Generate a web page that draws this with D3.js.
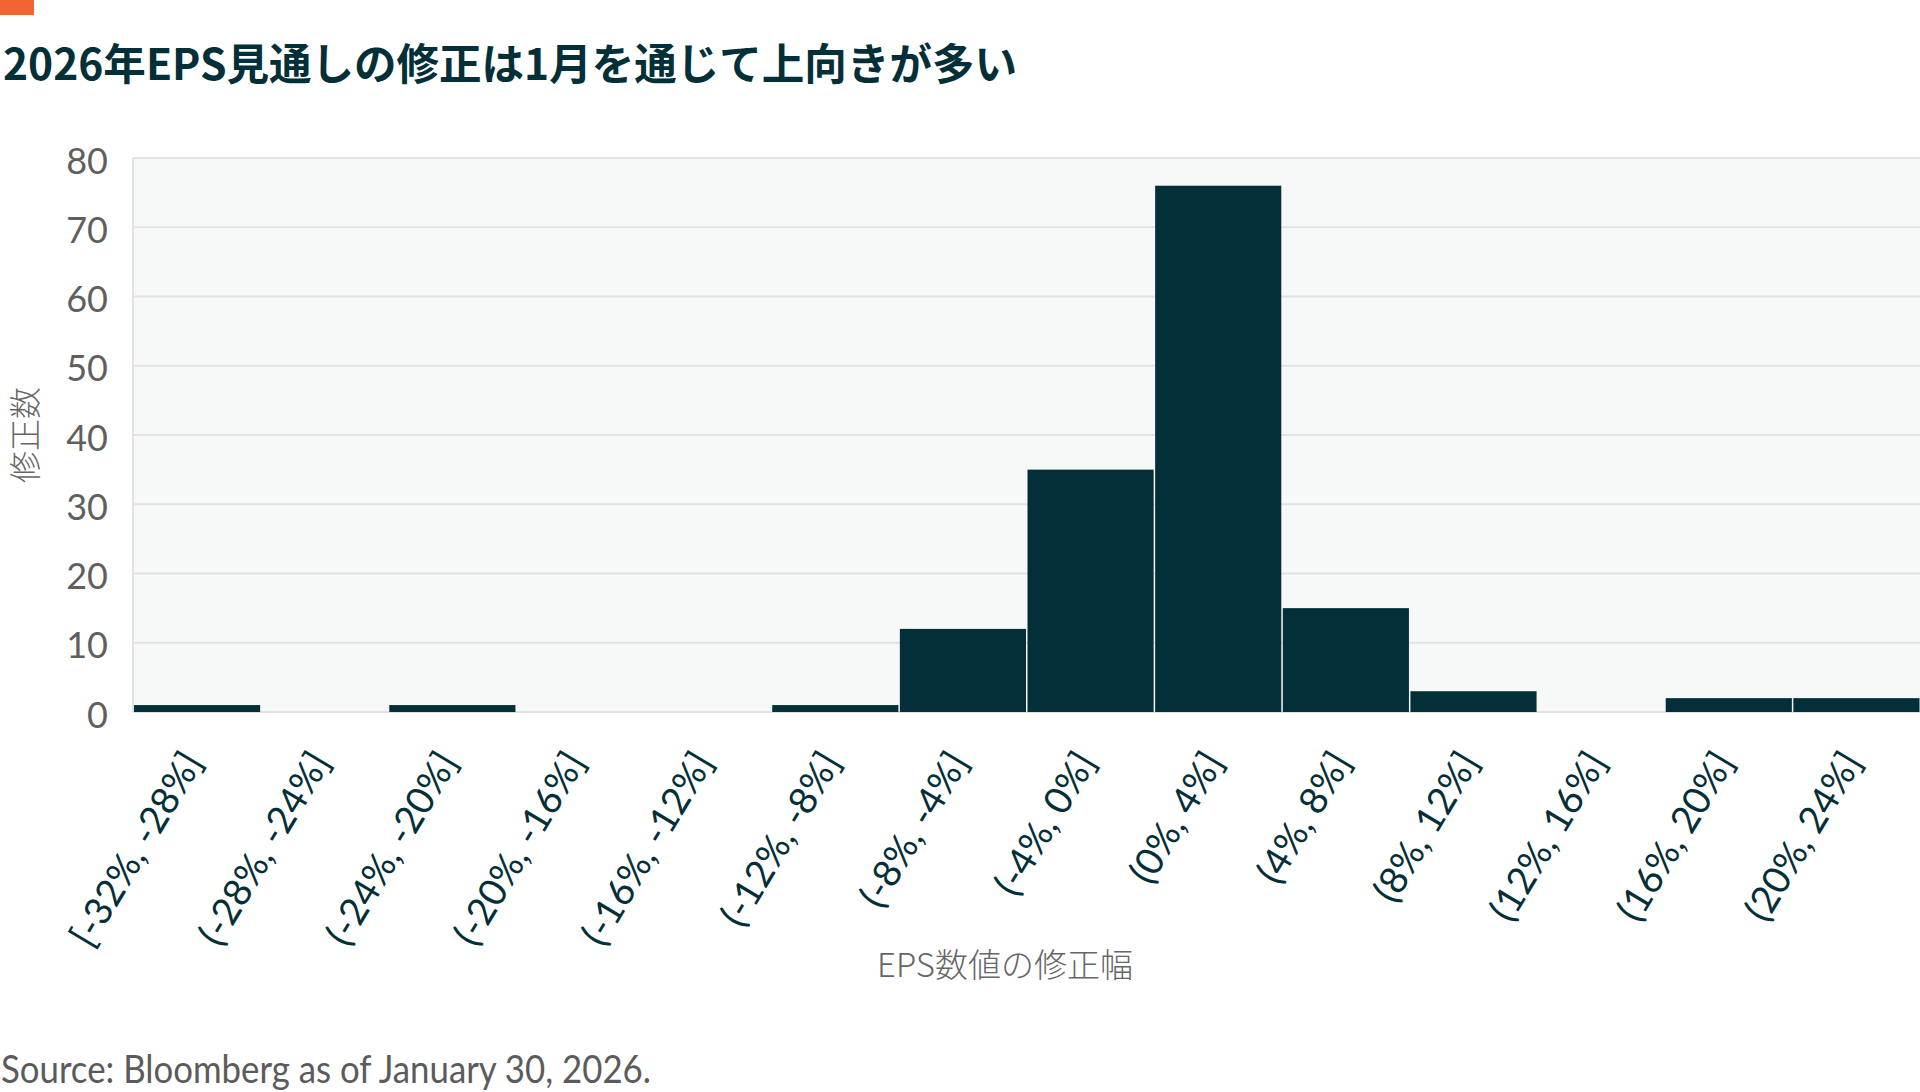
<!DOCTYPE html>
<html><head><meta charset="utf-8">
<script src="https://cdn.jsdelivr.net/npm/d3@7"></script>
<style>
html,body{margin:0;padding:0;background:#fff;}
svg{display:block;}
</style></head>
<body>
<svg id="chart" width="1920" height="1092"></svg>
<script>
const categories = ["[-32%, -28%]","(-28%, -24%]","(-24%, -20%]","(-20%, -16%]","(-16%, -12%]","(-12%, -8%]","(-8%, -4%]","(-4%, 0%]","(0%, 4%]","(4%, 8%]","(8%, 12%]","(12%, 16%]","(16%, 20%]","(20%, 24%]"];
const counts = [1,0,1,0,0,1,12,35,76,15,3,0,2,2];
const yTicks = [0,10,20,30,40,50,60,70,80];
const titleText = "2026年EPS見通しの修正は1月を通じて上向きが多い";
const yTitle = "修正数";
const xTitle = "EPS数値の修正幅";
const sourceText = "Source: Bloomberg as of January 30, 2026.";

const svg = d3.select("#chart");
const pLeft = 133, pRight = 1920, pTop = 158, pBottom = 712;
const dark = "#022f38";

const x = d3.scaleBand().domain(categories).range([pLeft, pRight]).padding(0);
const y = d3.scaleLinear().domain([0, 80]).range([pBottom, pTop]);

// accent
svg.append("rect").attr("x",0).attr("y",0).attr("width",34).attr("height",15).attr("fill","#f26430");

// title
svg.append("text").attr("x",3).attr("y",80)
  .attr("font-family","'Noto Sans CJK JP', sans-serif").attr("font-weight",700)
  .attr("font-size",43).attr("fill",dark)
  .attr("textLength",1014).attr("lengthAdjust","spacingAndGlyphs")
  .text(titleText);

// plot background
svg.append("rect").attr("x",pLeft).attr("y",pTop).attr("width",pRight-pLeft).attr("height",pBottom-pTop).attr("fill","#f7f9f9");

// gridlines
svg.append("g").selectAll("line").data(yTicks).join("line")
  .attr("x1",pLeft).attr("x2",pRight)
  .attr("y1",d=>y(d)).attr("y2",d=>y(d))
  .attr("stroke","#e2e2e2").attr("stroke-width",2);
svg.append("line").attr("x1",pLeft).attr("x2",pLeft).attr("y1",pTop).attr("y2",pBottom)
  .attr("stroke","#e2e2e2").attr("stroke-width",2);

// y axis
const yAxis = d3.axisLeft(y).tickValues(yTicks).tickSize(0).tickPadding(0);
const yg = svg.append("g").attr("transform",`translate(108,0)`).call(yAxis);
yg.select(".domain").remove();
yg.selectAll("text").attr("font-family","Lato, 'Noto Sans', sans-serif").attr("font-size",36)
  .attr("fill","#5f5f5f").attr("dy","0.42em");

// bars
svg.append("g").selectAll("rect").data(categories).join("rect")
  .attr("x",d=>x(d)+1).attr("width",x.bandwidth()-1.5)
  .attr("y",(d,i)=>y(counts[i])).attr("height",(d,i)=>y(0)-y(counts[i]))
  .attr("fill",dark);

// x axis labels
const xAxis = d3.axisBottom(x).tickSize(0).tickPadding(0);
const xg = svg.append("g").attr("transform",`translate(0,${pBottom})`).call(xAxis);
xg.select(".domain").remove();
xg.selectAll(".tick text")
  .attr("font-family","Lato, 'Noto Sans', sans-serif").attr("font-size",38)
  .attr("fill",dark).attr("text-anchor","end")
  .attr("y",0).attr("dy",0)
  .attr("transform","translate(7,50) rotate(-59)");

// axis titles
svg.append("text").attr("transform","translate(37,435) rotate(-90)")
  .attr("text-anchor","middle")
  .attr("font-family","'Noto Sans CJK JP', sans-serif").attr("font-size",32).attr("font-weight",300)
  .attr("fill","#666").text(yTitle);
svg.append("text").attr("x",1005).attr("y",977).attr("text-anchor","middle")
  .attr("font-family","'Noto Sans CJK JP', sans-serif").attr("font-size",33).attr("font-weight",300)
  .attr("fill","#666").text(xTitle);

// source
svg.append("text").attr("x",1).attr("y",1083)
  .attr("font-family","Lato, 'Noto Sans', sans-serif").attr("font-size",38)
  .attr("fill","#5b5b5b")
  .attr("textLength",650).attr("lengthAdjust","spacingAndGlyphs")
  .text(sourceText);
</script>
</body></html>
